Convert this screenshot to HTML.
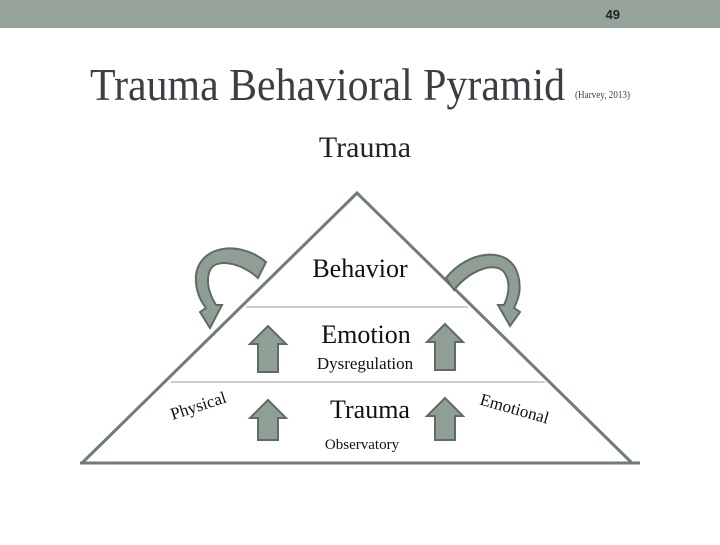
<!DOCTYPE html>
<html><head><style>
body{margin:0;width:720px;height:540px;background:#fff;overflow:hidden}
</style></head><body>
<svg width="720" height="540" xmlns="http://www.w3.org/2000/svg">
<rect x="0" y="0" width="720" height="28" fill="#96a39a"/>
<text x="620" y="19" font-family="Liberation Sans, sans-serif" font-weight="bold" font-size="13" fill="#222" text-anchor="end">49</text>
<text x="90" y="100" font-family="Liberation Serif, serif" font-size="46" fill="#3b3f44" textLength="475" lengthAdjust="spacingAndGlyphs">Trauma Behavioral Pyramid</text>
<text x="575" y="98" font-family="Liberation Serif, serif" font-size="11" fill="#3b3f44" textLength="55" lengthAdjust="spacingAndGlyphs">(Harvey, 2013)</text>
<text x="365" y="157" font-family="Liberation Serif, serif" font-size="30" fill="#222" text-anchor="middle">Trauma</text>
<line x1="246" y1="307" x2="468" y2="307" stroke="#999" stroke-width="1"/>
<line x1="171" y1="382" x2="545" y2="382" stroke="#999" stroke-width="1"/>
<polyline points="82,463 357,193 632,463" fill="none" stroke="#6f7d74" stroke-width="3"/>
<line x1="80" y1="463" x2="640" y2="463" stroke="#6f7d74" stroke-width="3"/>
<g fill="#8f9f96" stroke="#5f6b64" stroke-width="2">
<path d="M266,262 C240,240 200,245 196,275 C195,290 200,300 206,308 L200,312 L210,328 L222,305 L216,305 C208,292 206,280 210,270 C216,258 240,262 258,278 Z"/>
<path d="M446,278 C468,250 510,245 518,275 C522,290 518,300 514,308 L520,312 L510,326 L498,305 L504,305 C510,292 510,280 504,272 C496,262 472,268 454,290 Z"/>
<path d="M268,326 L250,344 L258,344 L258,372 L278,372 L278,344 L286,344 Z"/>
<path d="M445,324 L427,342 L435,342 L435,370 L455,370 L455,342 L463,342 Z"/>
<path d="M268,400 L250,418 L258,418 L258,440 L278,440 L278,418 L286,418 Z"/>
<path d="M445,398 L427,416 L435,416 L435,440 L455,440 L455,416 L463,416 Z"/>
</g>
<g font-family="Liberation Serif, serif" fill="#111" text-anchor="middle">
<text x="360" y="277" font-size="26">Behavior</text>
<text x="366" y="343" font-size="26">Emotion</text>
<text x="365" y="369" font-size="17">Dysregulation</text>
<text x="370" y="418" font-size="26">Trauma</text>
<text x="362" y="449" font-size="15">Observatory</text>
<text x="200" y="411" font-size="17" transform="rotate(-18 200 411)">Physical</text>
<text x="513" y="414" font-size="17" transform="rotate(16 513 414)">Emotional</text>
</g>
</svg>
</body></html>
